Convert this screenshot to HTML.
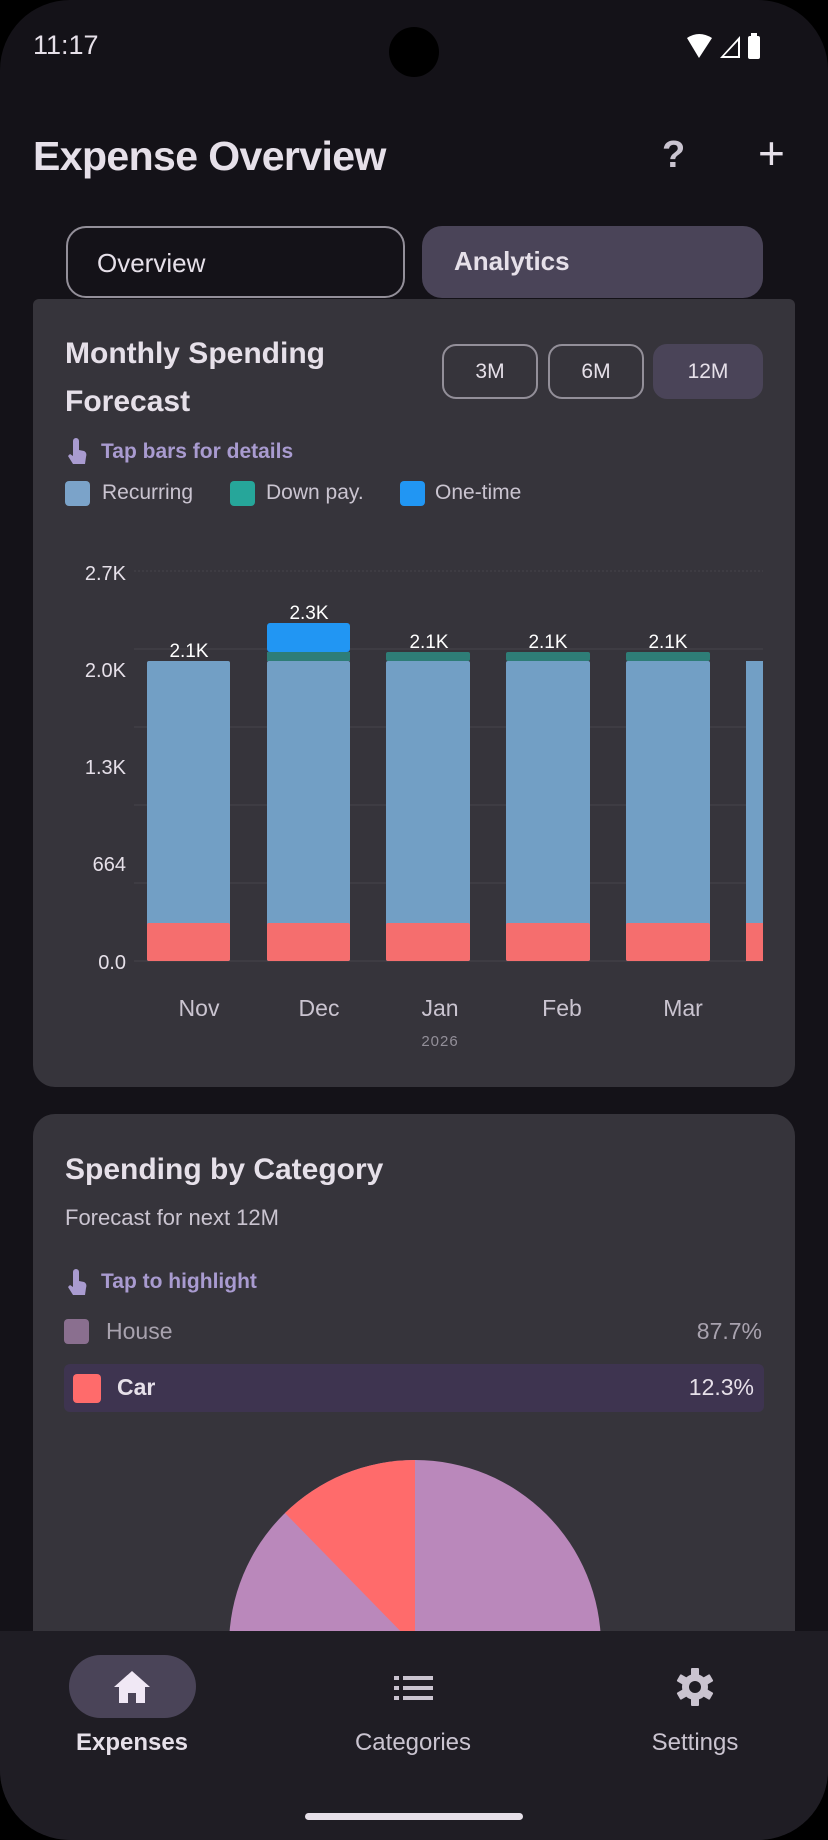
<!DOCTYPE html>
<html><head><meta charset="utf-8"><style>
*{margin:0;padding:0;box-sizing:border-box}
body{width:828px;height:1840px;background:#000;font-family:"Liberation Sans",sans-serif;color:#e6e0e9;overflow:hidden;position:relative}
.screen{position:absolute;left:0;top:0;width:828px;height:1840px;background:#141218;border-radius:70px;overflow:hidden}
.a{position:absolute;white-space:nowrap}
.card{position:absolute;left:33px;width:762px;background:#36343b;border-radius:22px}
.btn{position:absolute;top:344px;height:55px;border:2px solid #938f99;border-radius:14px;font-size:21px;display:flex;align-items:center;justify-content:center;color:#e6e0e9}
</style></head><body><div class="screen">
<div class="a" style="left:33px;top:30px;font-size:27px">11:17</div>
<div class="a" style="left:389px;top:27px;width:50px;height:50px;border-radius:50%;background:#000"></div>
<svg class="a" style="left:684px;top:32px" width="80" height="30" viewBox="0 0 80 30">
<path d="M3 6 Q15 -2 28 6 L15 26 Z" fill="#fff"/>
<path d="M36 26 L56 4 L56 26 Z M40 24 L54 24 L54 9 Z" fill="#fff" fill-rule="evenodd"/>
<rect x="64" y="4" width="12" height="23" rx="2" fill="#fff"/><rect x="67" y="1" width="6" height="4" fill="#fff"/>
</svg>
<div class="a" style="left:33px;top:133px;font-size:41px;font-weight:bold;letter-spacing:-0.6px">Expense Overview</div>
<div class="a" style="left:662px;top:134px;font-size:38px;font-weight:bold;color:#cac4d0">?</div>
<div class="a" style="left:758px;top:126px;font-size:46px;color:#e6e0e9">+</div>
<div class="a" style="left:66px;top:226px;width:339px;height:72px;border:2px solid #938f99;border-radius:20px;font-size:26px;padding:20px 0 0 29px;color:#e6e0e9">Overview</div>
<div class="a" style="left:422px;top:226px;width:341px;height:72px;background:#4a4458;border-radius:20px;font-size:26px;font-weight:bold;padding:20px 0 0 32px">Analytics</div>

<div class="card" style="top:299px;height:788px;border-radius:6px 6px 22px 22px"></div>
<div class="a" style="left:65px;top:330px;font-size:30px;font-weight:bold;line-height:48px">Monthly Spending<br>Forecast</div>
<div class="btn" style="left:442px;width:96px">3M</div>
<div class="btn" style="left:548px;width:96px">6M</div>
<div class="btn" style="left:653px;width:110px;background:#4a4458;border-color:#4a4458">12M</div>
<svg class="a" style="left:66px;top:438px" width="22" height="28" viewBox="0 0 22 28"><path d="M7 3a3 3 0 0 1 6 0v9l5 1c2 1 3 3 2 6l-1 7H7l-5-8 2-2 3 2z" fill="#a99bd0"/></svg>
<div class="a" style="left:101px;top:440px;font-size:21px;font-weight:bold;color:#a99bd0">Tap bars for details</div>
<div class="a" style="left:65px;top:481px;width:25px;height:25px;border-radius:4px;background:#7ba3c9"></div>
<div class="a" style="left:102px;top:481px;font-size:21px;color:#cac4d0">Recurring</div>
<div class="a" style="left:230px;top:481px;width:25px;height:25px;border-radius:4px;background:#26a69a"></div>
<div class="a" style="left:266px;top:481px;font-size:21px;color:#cac4d0">Down pay.</div>
<div class="a" style="left:400px;top:481px;width:25px;height:25px;border-radius:4px;background:#2196f3"></div>
<div class="a" style="left:435px;top:481px;font-size:21px;color:#cac4d0">One-time</div>

<svg class="a" style="left:0;top:0" width="828" height="1100" font-family="Liberation Sans, sans-serif">
<g stroke="#45434b" stroke-width="1">
<line x1="134" y1="571" x2="763" y2="571" stroke-dasharray="2 2"/><line x1="134" y1="649" x2="763" y2="649"/><line x1="134" y1="727" x2="763" y2="727"/><line x1="134" y1="805" x2="763" y2="805"/><line x1="134" y1="883" x2="763" y2="883"/><line x1="134" y1="961" x2="763" y2="961"/></g>
<g fill="#e6e0e9" font-size="20" text-anchor="end">
<text x="126" y="580">2.7K</text><text x="126" y="677">2.0K</text><text x="126" y="774">1.3K</text><text x="126" y="871">664</text><text x="126" y="969">0.0</text></g>
<g>
<rect x="147" y="661" width="83" height="300" rx="2" fill="#729fc5"/><rect x="147" y="923" width="83" height="38" rx="2" fill="#f56e6e"/>
<rect x="267" y="661" width="83" height="300" rx="2" fill="#729fc5"/><rect x="267" y="923" width="83" height="38" rx="2" fill="#f56e6e"/><rect x="267" y="652" width="83" height="9" fill="#2e7d77"/><rect x="267" y="623" width="83" height="29" rx="3" fill="#2196f3"/>
<rect x="386" y="661" width="84" height="300" rx="2" fill="#729fc5"/><rect x="386" y="923" width="84" height="38" rx="2" fill="#f56e6e"/><rect x="386" y="652" width="84" height="9" rx="2" fill="#2e7d77"/>
<rect x="506" y="661" width="84" height="300" rx="2" fill="#729fc5"/><rect x="506" y="923" width="84" height="38" rx="2" fill="#f56e6e"/><rect x="506" y="652" width="84" height="9" rx="2" fill="#2e7d77"/>
<rect x="626" y="661" width="84" height="300" rx="2" fill="#729fc5"/><rect x="626" y="923" width="84" height="38" rx="2" fill="#f56e6e"/><rect x="626" y="652" width="84" height="9" rx="2" fill="#2e7d77"/>
<rect x="746" y="661" width="17" height="300" fill="#729fc5"/><rect x="746" y="923" width="17" height="38" fill="#f56e6e"/>
</g>
<g fill="#fff" font-size="19" text-anchor="middle">
<text x="189" y="657">2.1K</text><text x="309" y="619">2.3K</text><text x="429" y="648">2.1K</text><text x="548" y="648">2.1K</text><text x="668" y="648">2.1K</text></g>
<g fill="#cac4d0" font-size="23" text-anchor="middle">
<text x="199" y="1016">Nov</text><text x="319" y="1016">Dec</text><text x="440" y="1016">Jan</text><text x="562" y="1016">Feb</text><text x="683" y="1016">Mar</text></g>
<text x="440" y="1046" fill="#938f99" font-size="15" text-anchor="middle" letter-spacing="1">2026</text>
</svg>

<div class="card" style="top:1114px;height:600px"></div>
<div class="a" style="left:65px;top:1153px;font-size:30px;font-weight:bold">Spending by Category</div>
<div class="a" style="left:65px;top:1205px;font-size:22px;color:#cac4d0">Forecast for next 12M</div>
<svg class="a" style="left:66px;top:1269px" width="22" height="28" viewBox="0 0 22 28"><path d="M7 3a3 3 0 0 1 6 0v9l5 1c2 1 3 3 2 6l-1 7H7l-5-8 2-2 3 2z" fill="#a99bd0"/></svg>
<div class="a" style="left:101px;top:1270px;font-size:21px;font-weight:bold;color:#a99bd0">Tap to highlight</div>
<div class="a" style="left:64px;top:1319px;width:25px;height:25px;border-radius:4px;background:#8a6f8f"></div>
<div class="a" style="left:106px;top:1318px;font-size:23px;color:#a8a2ae">House</div>
<div class="a" style="right:66px;top:1318px;font-size:23px;color:#a8a2ae">87.7%</div>
<div class="a" style="left:64px;top:1364px;width:700px;height:48px;background:#3e3450;border-radius:6px"></div>
<div class="a" style="left:73px;top:1374px;width:28px;height:29px;border-radius:4px;background:#ff6b6b"></div>
<div class="a" style="left:117px;top:1374px;font-size:23px;font-weight:bold">Car</div>
<div class="a" style="right:74px;top:1374px;font-size:23px">12.3%</div>
<svg class="a" style="left:0;top:1400px" width="828" height="240">
<circle cx="415" cy="246" r="186" fill="#ba88bb"/>
<path d="M415 246 L415 60 A186 186 0 0 0 285 113 Z" fill="#ff6b6b"/>
</svg>

<div class="a" style="left:0;top:1631px;width:828px;height:209px;background:#1f1d24"></div>
<div class="a" style="left:69px;top:1655px;width:127px;height:63px;border-radius:32px;background:#4a4458"></div>
<svg class="a" style="left:112px;top:1669px" width="40" height="36" viewBox="0 0 40 36"><path d="M20 2 L38 18 H33 V34 H24 V24 H16 V34 H7 V18 H2 Z" fill="#f0e8f5"/></svg>
<svg class="a" style="left:394px;top:1674px" width="40" height="28" viewBox="0 0 40 28"><g fill="#cac4d0"><rect x="0" y="2" width="5" height="4"/><rect x="9" y="2" width="30" height="4"/><rect x="0" y="12" width="5" height="4"/><rect x="9" y="12" width="30" height="4"/><rect x="0" y="22" width="5" height="4"/><rect x="9" y="22" width="30" height="4"/></g></svg>
<svg class="a" style="left:675px;top:1667px" width="40" height="40" viewBox="0 0 40 40"><g fill="#cac4d0"><circle cx="20" cy="20" r="13"/><rect x="16" y="1" width="8" height="38" rx="1"/><rect x="16" y="1" width="8" height="38" rx="1" transform="rotate(60 20 20)"/><rect x="16" y="1" width="8" height="38" rx="1" transform="rotate(120 20 20)"/></g><circle cx="20" cy="20" r="6" fill="#1f1d24"/></svg>
<div class="a" style="left:132px;top:1729px;transform:translateX(-50%);font-size:24px;font-weight:bold;color:#e6e0e9">Expenses</div>
<div class="a" style="left:413px;top:1729px;transform:translateX(-50%);font-size:24px;color:#cac4d0">Categories</div>
<div class="a" style="left:695px;top:1729px;transform:translateX(-50%);font-size:24px;color:#cac4d0">Settings</div>
<div class="a" style="left:305px;top:1813px;width:218px;height:7px;border-radius:4px;background:#e6e0e9"></div>
</div></body></html>
